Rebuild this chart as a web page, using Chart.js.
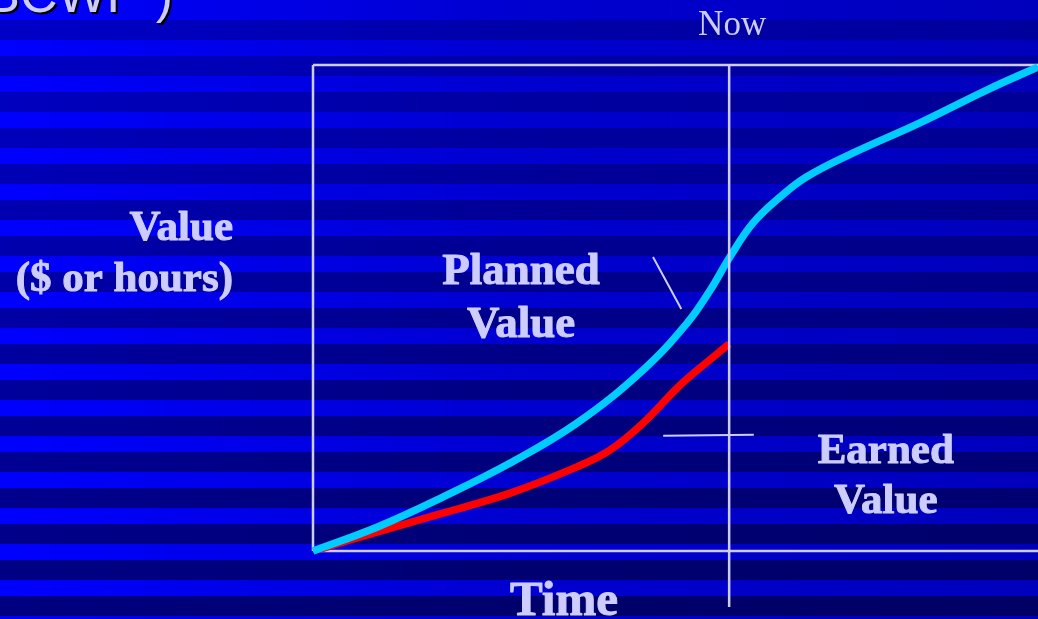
<!DOCTYPE html>
<html>
<head>
<meta charset="utf-8">
<script src="https://cdn.jsdelivr.net/npm/chart.js@4/dist/chart.umd.min.js"></script>
<style>
  html, body { margin: 0; padding: 0; background: #0000cc; overflow: hidden; }
  #wrap { width: 1038px; height: 619px; }
</style>
</head>
<body>
<div id="wrap"><canvas id="c" width="1038" height="619"></canvas></div>
<script>
// ---- data ----
const pvTime  = [0, 8.8, 17.9, 27.2, 36.4, 45.5, 51.6, 54.8, 57.5, 60.7, 64.4, 68.1, 74.5, 83.7, 93.0, 100];
const pvValue = [0, 4.9, 11.1, 18.1, 26.3, 37.2, 46.9, 53.7, 60.5, 67.5, 72.8, 77.0, 81.9, 88.1, 94.9, 99.6];
const evTime  = [1.0, 8.8, 17.9, 27.2, 36.4, 41.0, 45.5, 50.2, 53.0, 57.4];
const evValue = [0.4, 3.9, 7.8, 11.9, 17.3, 20.8, 26.3, 33.5, 37.2, 42.6];
const nowTime = 57.4;
const plannedLabel = ["Planned", "Value"];
const earnedLabel = ["Earned", "Value"];
const yAxisLabel = ["Value", "($ or hours)"];
const xAxisLabel = "Time";
const nowLabel = "Now";
const titleFragment = "(BCWP )";

const TEXT = '#ccccff';

function boldText(ctx, s, x, y) {
  ctx.fillText(s, x, y);
  ctx.strokeText(s, x, y);
}

const bgPlugin = {
  id: 'bg',
  beforeDraw(chart) {
    const ctx = chart.ctx, W = chart.width, H = chart.height;
    ctx.save();
    let g = ctx.createLinearGradient(0, 0, W, 0);
    g.addColorStop(0, 'rgb(0,0,255)');
    g.addColorStop(0.5, 'rgb(0,0,208)');
    g.addColorStop(1, 'rgb(0,0,188)');
    ctx.fillStyle = g;
    ctx.fillRect(0, 0, W, H);
    for (let y0 = 20; y0 < H; y0 += 36) {
      const fy = Math.min(Math.max((y0 + 10) / H, 0), 1);
      const k = 0.8 - 0.3 * fy;
      g = ctx.createLinearGradient(0, 0, W, 0);
      g.addColorStop(0, 'rgb(0,0,' + Math.round(255 * k) + ')');
      g.addColorStop(0.5, 'rgb(0,0,' + Math.round(215 * k) + ')');
      g.addColorStop(1, 'rgb(0,0,' + Math.round(200 * k) + ')');
      ctx.fillStyle = g;
      ctx.fillRect(0, y0, W, 20);
    }
    ctx.restore();
  },
  beforeDatasetsDraw(chart) {
    const ctx = chart.ctx, a = chart.chartArea;
    ctx.save();
    ctx.strokeStyle = TEXT;
    ctx.lineWidth = 2.5;
    ctx.beginPath();
    ctx.moveTo(a.left, a.top); ctx.lineTo(chart.width, a.top);
    ctx.moveTo(a.left, a.top); ctx.lineTo(a.left, a.bottom);
    ctx.moveTo(a.left, a.bottom); ctx.lineTo(chart.width, a.bottom);
    ctx.stroke();
    ctx.restore();
  },
  afterDatasetsDraw(chart) {
    const ctx = chart.ctx, a = chart.chartArea;
    const xs = chart.scales.x, ys = chart.scales.y;
    const px = v => xs.getPixelForValue(v), py = v => ys.getPixelForValue(v);
    ctx.save();
    ctx.strokeStyle = TEXT;
    ctx.lineWidth = 2.5;
    ctx.beginPath();
    ctx.moveTo(px(nowTime), a.top);
    ctx.lineTo(px(nowTime), a.bottom + 56);
    ctx.stroke();
    ctx.lineWidth = 2;
    ctx.beginPath();
    ctx.moveTo(px(46.9), py(60.5)); ctx.lineTo(px(50.8), py(49.8));
    ctx.moveTo(px(48.3), py(23.7)); ctx.lineTo(px(60.8), py(23.9));
    ctx.stroke();

    ctx.fillStyle = TEXT;
    ctx.strokeStyle = TEXT;
    ctx.lineWidth = 1;
    ctx.lineJoin = 'round';
    ctx.font = '35px "Liberation Serif", "Times New Roman", serif';
    ctx.textAlign = 'center';
    ctx.textBaseline = 'alphabetic';
    ctx.fillText(nowLabel, px(nowTime) + 3, 35);
    ctx.font = 'bold 45px "Liberation Serif", "Times New Roman", serif';
    boldText(ctx, plannedLabel[0], px(28.7), 284);
    boldText(ctx, plannedLabel[1], px(28.7), 337);
    ctx.font = 'bold 43px "Liberation Serif", "Times New Roman", serif';
    boldText(ctx, earnedLabel[0], px(79.0), 463);
    boldText(ctx, earnedLabel[1], px(79.0), 513);
    ctx.font = 'bold 49px "Liberation Serif", "Times New Roman", serif';
    boldText(ctx, xAxisLabel, 564, 615);
    ctx.font = 'bold 43px "Liberation Serif", "Times New Roman", serif';
    ctx.textAlign = 'right';
    boldText(ctx, yAxisLabel[0], 233, 240);
    boldText(ctx, yAxisLabel[1], 233, 291);
    ctx.font = '52px "Liberation Sans", Arial, sans-serif';
    ctx.fillStyle = '#000000';
    ctx.fillText(titleFragment, 175, 14);
    ctx.fillStyle = TEXT;
    ctx.fillText(titleFragment, 173, 12);
    ctx.restore();
  }
};

const toXY = (xs, ys) => xs.map((x, i) => ({ x: x, y: ys[i] }));

new Chart(document.getElementById('c'), {
  type: 'line',
  data: {
    datasets: [
      {
        label: 'Planned Value',
        data: toXY(pvTime, pvValue),
        borderColor: '#00ccff',
        borderWidth: 7.5,
        pointRadius: 0,
        tension: 0.4,
        clip: false,
        borderCapStyle: 'butt'
      },
      {
        label: 'Earned Value',
        data: toXY(evTime, evValue),
        borderColor: '#ff0000',
        borderWidth: 7.5,
        pointRadius: 0,
        tension: 0.4,
        clip: false,
        borderCapStyle: 'butt'
      }
    ]
  },
  options: {
    responsive: false,
    animation: false,
    devicePixelRatio: 1,
    layout: { padding: { left: 313, top: 65, right: 0, bottom: 68 } },
    plugins: { legend: { display: false }, tooltip: { enabled: false } },
    scales: {
      x: { type: 'linear', min: 0, max: 100, display: false },
      y: { type: 'linear', min: 0, max: 100, display: false }
    }
  },
  plugins: [bgPlugin]
});
</script>
</body>
</html>
